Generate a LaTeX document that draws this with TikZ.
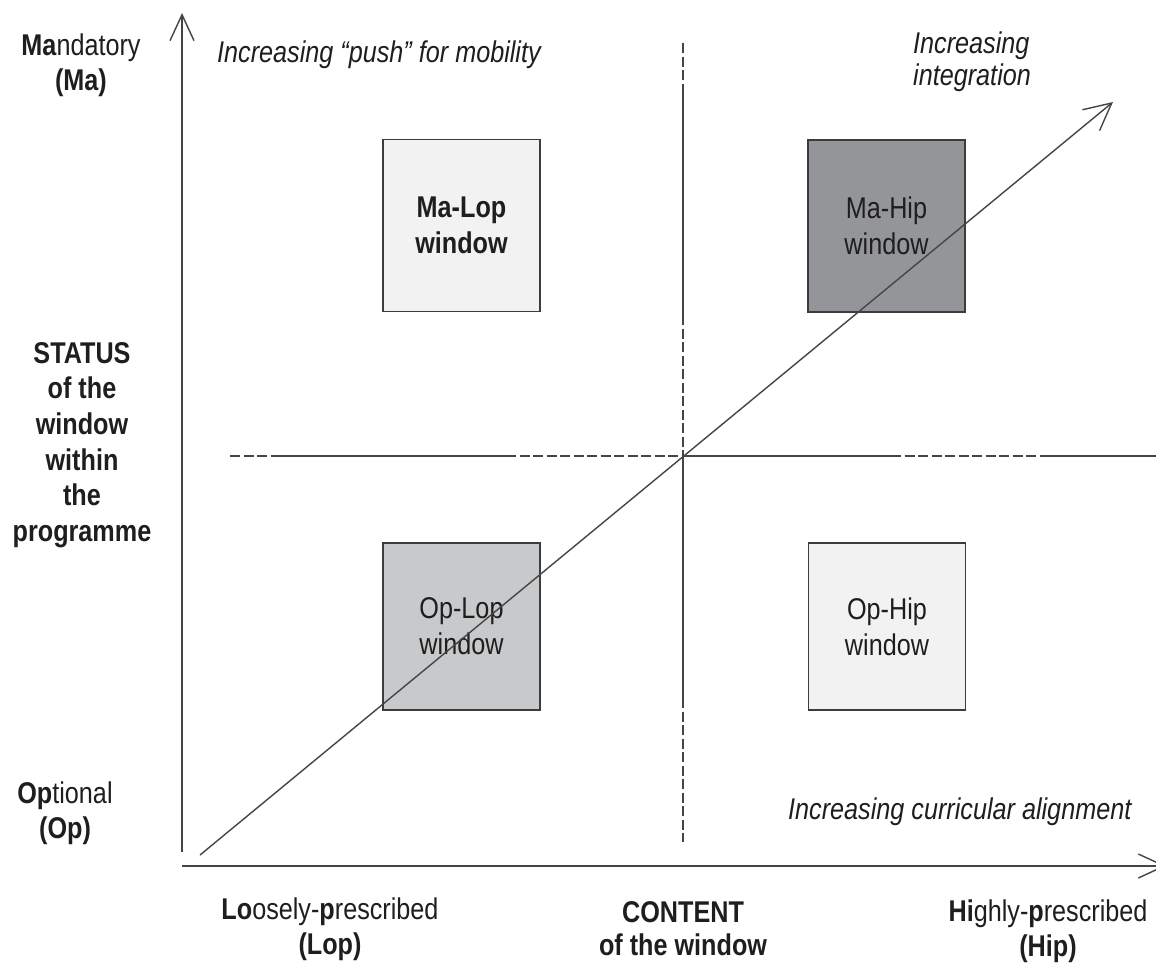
\documentclass[tikz,border=0pt]{standalone}
\usepackage{fontspec}
\setmainfont[FakeStretch=0.84]{Liberation Sans}
\usetikzlibrary{arrows.meta}
\definecolor{axisc}{HTML}{454545}
\definecolor{boxline}{HTML}{3C3C3C}
\definecolor{lightfill}{HTML}{F2F2F2}
\definecolor{midfill}{HTML}{C8C9CB}
\definecolor{darkfill}{HTML}{939598}
\definecolor{txt}{HTML}{1E1E1E}
\tikzset{
  axisline/.style={draw=axisc, line width=1.7pt, -{Straight Barb[length=26pt,width=24pt,line width=1.4pt]}},
  diagline/.style={draw=axisc, line width=1.4pt, -{Straight Barb[length=27pt,width=27pt,line width=1.4pt]}},
  guidedash/.style={draw=axisc, line width=1.5pt, dash pattern=on 10pt off 3.5pt},
  guidesolid/.style={draw=axisc, line width=1.5pt},
  winbox/.style={draw=boxline, line width=1.8pt, minimum width=157pt, minimum height=172pt, align=center, inner sep=0pt, text=txt, font=\fontsize{30}{36}\selectfont},
  lbl/.style={align=center, inner sep=0pt, text=txt, font=\fontsize{30}{35.5}\selectfont},
  ilbl/.style={align=left, inner sep=0pt, text=txt, font=\fontsize{30}{32}\selectfont\itshape},
}
\begin{document}
\begin{tikzpicture}[x=1pt,y=-1pt]
\useasboundingbox (0,0) rectangle (1156,967);
\fill[white] (0,0) rectangle (1156,967);
% guide lines (dashed / solid pieces)
\coordinate (hA) at (230,456); \coordinate (hB) at (279,456); \coordinate (hC) at (506,456);
\coordinate (hD) at (683,456); \coordinate (hE) at (891,456); \coordinate (hF) at (1050,456);
\coordinate (hG) at (1160,456);
\draw[guidedash] (hA) -- (hB);
\draw[guidesolid] (hB) -- (hC);
\draw[guidedash] (hC) -- (hD);
\draw[guidesolid] (hD) -- (hE);
\draw[guidedash] (hE) -- (hF);
\draw[guidesolid] (hF) -- (hG);
\coordinate (vA) at (683,43); \coordinate (vB) at (683,87); \coordinate (vC) at (683,315);
\coordinate (vD) at (683,698); \coordinate (vE) at (683,842);
\draw[guidedash] (vA) -- (vB);
\draw[guidesolid] (vB) -- (vC);
\draw[guidedash] (vC) -- (hD);
\draw[guidesolid] (hD) -- (vD);
\draw[guidedash] (vD) -- (vE);
% windows
\node[winbox, fill=lightfill, font=\fontsize{30}{36}\selectfont\bfseries] (malop) at (461.5,225.5) {Ma-Lop\\window};
\node[winbox, fill=darkfill] (mahip) at (886.5,226) {Ma-Hip\\window};
\node[winbox, fill=midfill, minimum height=167pt] (oplop) at (461.5,626.5) {Op-Lop\\window};
\node[winbox, fill=lightfill, minimum height=167pt] (ophip) at (887,626.5) {Op-Hip\\window};
% axes
\coordinate (vbot) at (182,852);
\coordinate (vtop) at (182,13);
\coordinate (hleft) at (182,866);
\coordinate (hright) at (1166,866);
\draw[axisline] (vbot) -- (vtop);
\draw[axisline] (hleft) -- (hright);
% diagonal
\coordinate (dstart) at (200,855);
\coordinate (dend) at (1113,102);
\draw[diagline] (dstart) -- (dend);
% labels
\node[lbl] (mand) at (81,65) {\textbf{Ma}ndatory\\\textbf{(Ma)}};
\node[lbl, font=\fontsize{30}{35.6}\selectfont\bfseries] (status) at (82,445) {STATUS\\of the\\window\\within\\the\\programme};
\node[lbl] (opt) at (65,813) {\textbf{Op}tional\\\textbf{(Op)}};
\node[lbl] (loose) at (330,929) {\textbf{Lo}osely-\textbf{p}rescribed\\\textbf{(Lop)}};
\node[lbl, font=\fontsize{30}{33}\selectfont\bfseries] (content) at (683,929) {CONTENT\\of the window};
\node[lbl] (high) at (1048,931) {\textbf{Hi}ghly-\textbf{p}rescribed\\\textbf{(Hip)}};
\node[ilbl, anchor=west] (push) at (217,55) {Increasing “push” for mobility};
\node[ilbl, anchor=west] (integ) at (913,62) {Increasing\\integration};
\node[ilbl, anchor=west] (curr) at (788,812) {Increasing curricular alignment};
\end{tikzpicture}
\end{document}
